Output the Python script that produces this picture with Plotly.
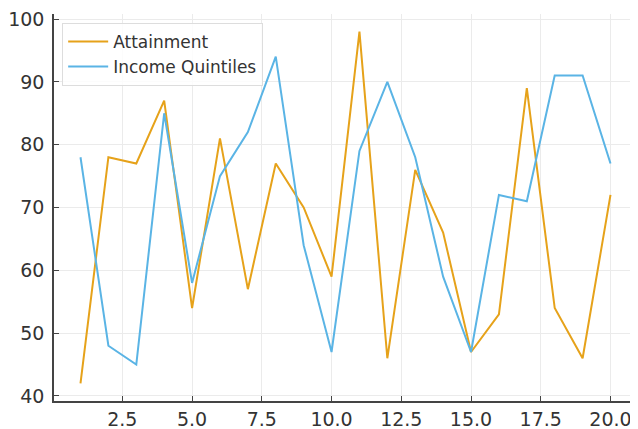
import plotly.graph_objects as go

x = list(range(1, 21))
attainment = [42, 78, 77, 87, 54, 81, 57, 77, 70, 59, 98, 46, 76, 66, 47, 53, 89, 54, 46, 72]
income = [78, 48, 45, 85, 58, 75, 82, 94, 64, 47, 79, 90, 78, 59, 47, 72, 71, 91, 91, 77]
x_ticks = [2.5, 5.0, 7.5, 10.0, 12.5, 15.0, 17.5, 20.0]
y_ticks = [40, 50, 60, 70, 80, 90, 100]

fig = go.Figure()
fig.add_trace(go.Scatter(x=x, y=attainment, mode="lines", name="Attainment",
                         line=dict(color="#E6A21A", width=2)))
fig.add_trace(go.Scatter(x=x, y=income, mode="lines", name="Income Quintiles",
                         line=dict(color="#5AB4E5", width=2)))

axis_common = dict(showgrid=True, gridcolor="#EBEBEB", gridwidth=1, zeroline=False,
                   showline=True, linecolor="#444444", linewidth=1.5,
                   ticks="inside", ticklen=5, tickcolor="#444444", automargin=False,
                   ticklabeloverflow="allow",
                   tickfont=dict(family="DejaVu Sans", size=19, color="#333333"))

# page body has an 8px default margin, so the figure is sized to fill the rest
fig.update_layout(
    width=630, height=421,
    margin=dict(l=46, r=1, t=6, b=28),
    paper_bgcolor="white", plot_bgcolor="white",
    showlegend=True,
    legend=dict(x=0.014, y=0.977, xanchor="left", yanchor="top", itemwidth=40,
                bgcolor="rgba(255,255,255,0.85)", bordercolor="#DDDDDD", borderwidth=1,
                font=dict(family="DejaVu Sans", size=17, color="#333333")),
    xaxis=dict(range=[0.05, 20.95], tickvals=x_ticks,
               ticktext=[f"{v:.1f}" for v in x_ticks], **axis_common),
    yaxis=dict(range=[39.2, 100.8], tickvals=y_ticks, ticklabelstandoff=4, **axis_common),
)

fig.write_html("out.html")
